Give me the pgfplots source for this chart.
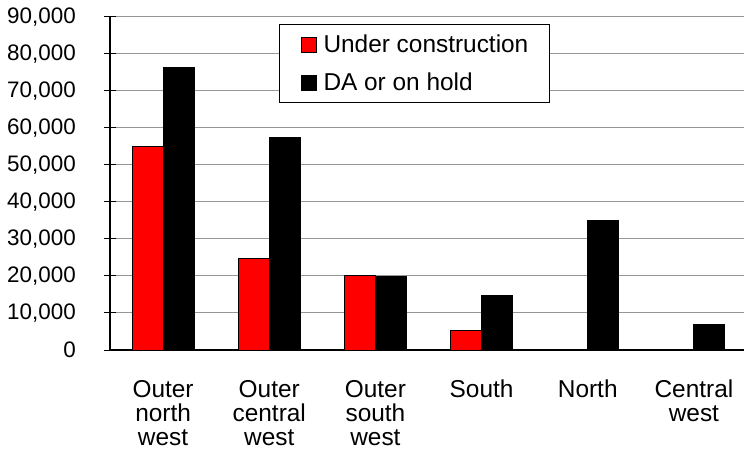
\documentclass[border=0pt]{standalone}
\usepackage{pgfplots}
\pgfplotsset{compat=1.18}
\usepackage{fontspec}
\setmainfont{Liberation Sans}
\definecolor{gridgray}{RGB}{150,150,150}
\definecolor{barred}{RGB}{255,0,0}
\begin{document}
\begin{tikzpicture}
\begin{axis}[
  at={(0bp,0bp)}, anchor=south west,
  scale only axis, width=637bp, height=333.3bp,
  ybar=0pt, bar width=31bp,
  xmin=-0.5, xmax=5.5, ymin=0, ymax=90000,
  axis x line*=bottom, axis y line*=left,
  axis line style={black, line width=1.2bp},
  xtick={0,1,2,3,4,5},
  xticklabels={{Outer\\north\\west},{Outer\\central\\west},{Outer\\south\\west},{South},{North},{Central\\west}},
  major x tick style={draw=none},
  extra x ticks={-0.5,0.5,1.5,2.5,3.5,4.5},
  extra x tick labels={},
  extra x tick style={grid=none, major tick length=12bp, tick align=center, major tick style={draw=black, line width=1bp}},
  ytick={0,10000,20000,30000,40000,50000,60000,70000,80000,90000},
  major tick length=12bp, tick align=center,
  y tick style={black, line width=1bp},
  ymajorgrids, grid style={gridgray, line width=1bp},
  scaled y ticks=false,
  /pgf/number format/1000 sep={,},
  /pgf/number format/assume math mode=true,
  yticklabel style={anchor=east, inner sep=0pt, xshift=-28bp, font=\fontsize{22.5}{24}\selectfont},
  xticklabel style={anchor=north, align=center, inner sep=0pt, yshift=-24bp, font=\fontsize{24.5}{24}\selectfont},
  every axis plot post/.append style={legend image code/.code={\draw[#1, line width=1bp] (0bp,-7.5bp) rectangle (15bp,7.5bp);}},
  legend cell align=left,
  legend style={at={(0.2653,0.978)}, anchor=north west, draw=black, line width=1bp, fill=white,
    font=\fontsize{24.5}{26}\selectfont, inner xsep=21bp, inner ysep=8bp, row sep=14.3bp, column sep=7bp,
    nodes={inner sep=0pt, text height=20bp, text depth=4bp}},
]
\addplot[fill=barred, draw=black, line width=1bp] coordinates {(0,55000) (1,24700) (2,20100) (3,5400)};
\addlegendentry{Under construction}
\addplot[fill=black, draw=black, line width=1bp] coordinates {(0,76400) (1,57500) (2,19800) (3,14700) (4,34900) (5,6800)};
\addlegendentry{DA or on hold}
\end{axis}
\pgfresetboundingbox
\path[use as bounding box] (-110bp,-99bp) rectangle (634bp,350bp);
\end{tikzpicture}
\end{document}
